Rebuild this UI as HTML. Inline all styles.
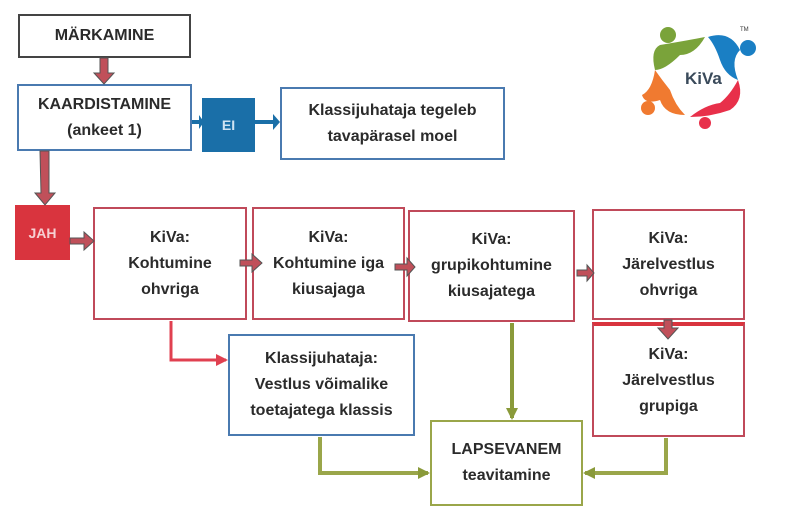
<!DOCTYPE html>
<html><head><meta charset="utf-8"><style>
body{margin:0;background:#fff;width:800px;height:520px;overflow:hidden;position:relative;font-family:"Liberation Sans",sans-serif;}
.b{position:absolute;box-sizing:border-box;background:#fff;display:flex;align-items:center;justify-content:center;text-align:center;font-weight:bold;font-size:16px;line-height:26px;color:#2b2b2b;}
svg{position:absolute;left:0;top:0;z-index:5;}
</style></head><body>
<div class="b" style="left:18px;top:14px;width:173px;height:44px;border:2px solid #444;">MÄRKAMINE</div>
<div class="b" style="left:17px;top:84px;width:175px;height:67px;border:2px solid #4a7ab0;">KAARDISTAMINE<br>(ankeet 1)</div>
<div class="b" style="left:202px;top:98px;width:53px;height:54px;background:#1a6fa8;color:#cfe3f2;font-size:14px;">EI</div>
<div class="b" style="left:280px;top:87px;width:225px;height:73px;border:2px solid #4a7ab0;">Klassijuhataja tegeleb<br>tavapärasel moel</div>
<div class="b" style="left:15px;top:205px;width:55px;height:55px;background:#d9343e;color:#f6d0d3;font-size:14px;">JAH</div>
<div class="b" style="left:93px;top:207px;width:154px;height:113px;border:2px solid #c04a5a;">KiVa:<br>Kohtumine<br>ohvriga</div>
<div class="b" style="left:252px;top:207px;width:153px;height:113px;border:2px solid #c04a5a;">KiVa:<br>Kohtumine iga<br>kiusajaga</div>
<div class="b" style="left:408px;top:210px;width:167px;height:112px;border:2px solid #c04a5a;">KiVa:<br>grupikohtumine<br>kiusajatega</div>
<div class="b" style="left:592px;top:209px;width:153px;height:111px;border:2px solid #c04a5a;">KiVa:<br>Järelvestlus<br>ohvriga</div>
<div class="b" style="left:592px;top:322px;width:153px;height:115px;border:2px solid #c04a5a;border-top:4px solid #d9343e;">KiVa:<br>Järelvestlus<br>grupiga</div>
<div class="b" style="left:228px;top:334px;width:187px;height:102px;border:2px solid #4a7ab0;">Klassijuhataja:<br>Vestlus võimalike<br>toetajatega klassis</div>
<div class="b" style="left:430px;top:420px;width:153px;height:86px;border:2px solid #9aa64a;">LAPSEVANEM<br>teavitamine</div>
<svg width="800" height="520">
<defs>
<marker id="ah" markerUnits="userSpaceOnUse" markerWidth="12" markerHeight="12" refX="10" refY="6" orient="auto"><path d="M0,0L12,6L0,12Z" fill="#8a9a3a"/></marker>
<marker id="ar" markerUnits="userSpaceOnUse" markerWidth="12" markerHeight="12" refX="10" refY="6" orient="auto"><path d="M0,0L12,6L0,12Z" fill="#e04050"/></marker>
</defs>
<g fill="#c0505a" stroke="#555" stroke-width="1">
<path d="M100,58h8v15h6l-10,11l-10,-11h6z"/>
<path d="M40,151h9v42h6l-10,12l-10,-12h6z"/>
<path d="M70,238h14v-6l10,9l-10,9v-6h-14z"/>
<path d="M240,260h12v-6l10,9l-10,9v-6h-12z"/>
<path d="M395,264h12v-6l8,9l-8,9v-6h-12z"/>
<path d="M577,270h10v-5l7,8l-7,8v-5h-10z"/>
<path d="M664,320h8v8h6l-10,11l-10,-11h6z"/>
</g>
<g fill="#1a6fa8">
<path d="M192,120h7v-5l5,7l-5,7v-5h-7z"/>
<path d="M255,120h18v-6l7,8l-7,8v-6h-18z"/>
</g>
<path d="M171,321V360H226" fill="none" stroke="#e04050" stroke-width="3" marker-end="url(#ar)"/>
<path d="M512,323V418" fill="none" stroke="#8a9a3a" stroke-width="4" marker-end="url(#ah)"/>
<path d="M320,437V473H428" fill="none" stroke="#9aa64a" stroke-width="4" marker-end="url(#ah)"/>
<path d="M666,438V473H585" fill="none" stroke="#9aa64a" stroke-width="4" marker-end="url(#ah)"/>
<g transform="translate(700,75)">
<circle cx="-32" cy="-40" r="8" fill="#7aa33a"/>
<path d="M-40,-30 Q-10,-35 5,-38 Q-5,-20 -20,-20 Q-35,-5 -45,-5 Q-50,-25 -40,-30Z" fill="#7aa33a"/>
<circle cx="48" cy="-27" r="8" fill="#1a7fc4"/>
<path d="M8,-38 Q30,-45 40,-25 Q30,-15 38,5 Q25,0 20,-15 Q15,-30 8,-38Z" fill="#1a7fc4"/>
<path d="M-45,-5 Q-38,5 -30,15 Q-25,30 -15,40 Q-35,40 -40,25 Q-55,30 -58,20 Q-48,15 -45,-5Z" fill="#f07a30"/>
<circle cx="-52" cy="33" r="7" fill="#f07a30"/>
<path d="M38,5 Q45,25 30,35 Q10,42 -10,42 Q5,30 20,28 Q30,20 38,5Z" fill="#e8304a"/>
<circle cx="5" cy="48" r="6" fill="#e8304a"/>
<text x="-15" y="9" font-family="Liberation Sans" font-weight="bold" font-size="17" fill="#3a4a5a">KiVa</text>
<text x="40" y="-44" font-family="Liberation Sans" font-size="6" fill="#333">TM</text>
</g>
</svg>
</body></html>
